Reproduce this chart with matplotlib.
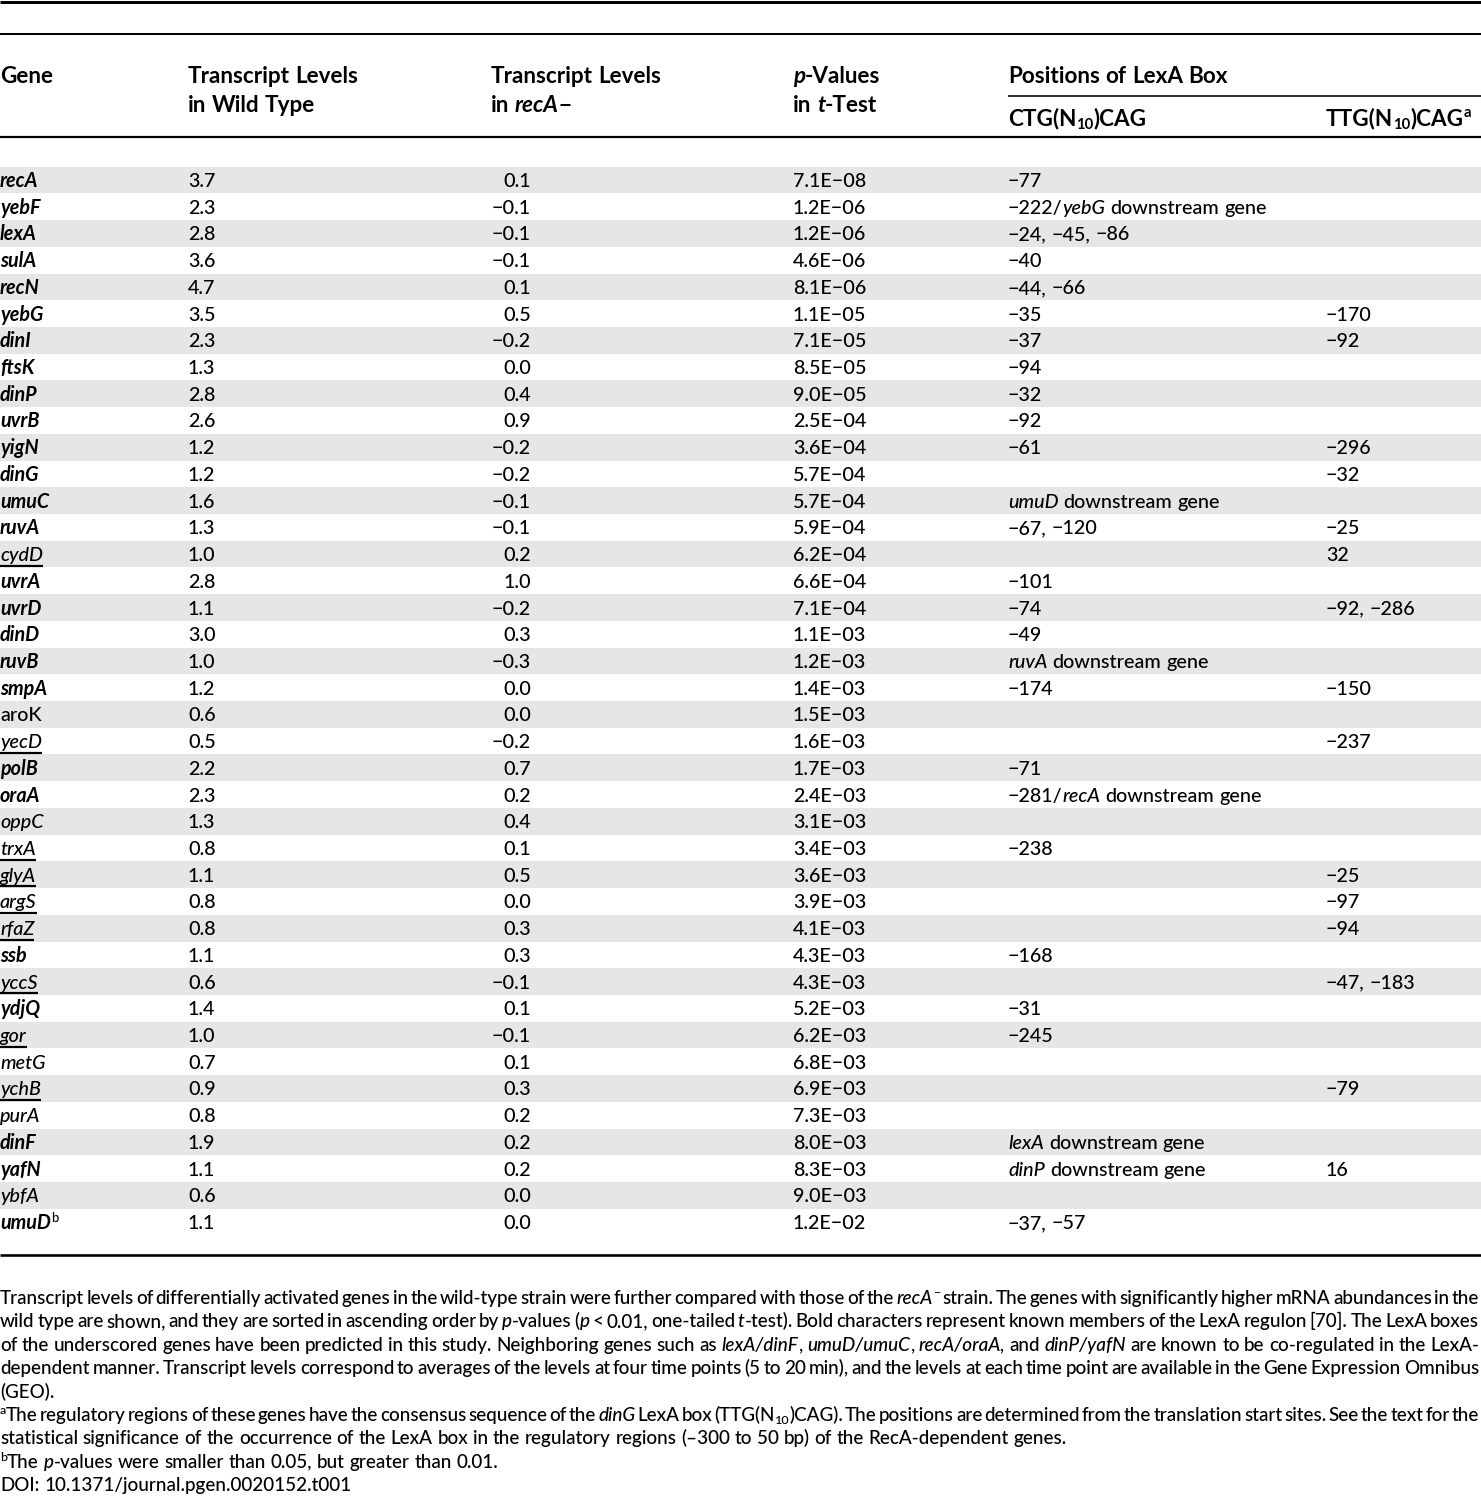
import re
import matplotlib.pyplot as plt

plt.rcParams['font.family'] = ['Lato', 'DejaVu Sans']

# table data
genes = ['recA', 'yebF', 'lexA', 'sulA', 'recN', 'yebG', 'dinI', 'ftsK', 'dinP', 'uvrB',
         'yigN', 'dinG', 'umuC', 'ruvA', 'cydD', 'uvrA', 'uvrD', 'dinD', 'ruvB', 'smpA',
         'aroK', 'yecD', 'polB', 'oraA', 'oppC', 'trxA', 'glyA', 'argS', 'rfaZ', 'ssb',
         'yccS', 'ydjQ', 'gor', 'metG', 'ychB', 'purA', 'dinF', 'yafN', 'ybfA', 'umuD']
# b = bold (known LexA regulon), u = underscored (predicted here), i = italic, n = upright
gene_kind = ['b', 'b', 'b', 'b', 'b', 'b', 'b', 'b', 'b', 'b',
             'b', 'b', 'b', 'b', 'u', 'b', 'b', 'b', 'b', 'b',
             'n', 'u', 'b', 'b', 'i', 'u', 'u', 'u', 'u', 'b',
             'u', 'b', 'u', 'i', 'u', 'i', 'b', 'b', 'i', 'b']
gene_note = {'umuD': 'b'}
wild_type = [3.7, 2.3, 2.8, 3.6, 4.7, 3.5, 2.3, 1.3, 2.8, 2.6,
             1.2, 1.2, 1.6, 1.3, 1.0, 2.8, 1.1, 3.0, 1.0, 1.2,
             0.6, 0.5, 2.2, 2.3, 1.3, 0.8, 1.1, 0.8, 0.8, 1.1,
             0.6, 1.4, 1.0, 0.7, 0.9, 0.8, 1.9, 1.1, 0.6, 1.1]
reca_minus = [0.1, -0.1, -0.1, -0.1, 0.1, 0.5, -0.2, 0.0, 0.4, 0.9,
              -0.2, -0.2, -0.1, -0.1, 0.2, 1.0, -0.2, 0.3, -0.3, 0.0,
              0.0, -0.2, 0.7, 0.2, 0.4, 0.1, 0.5, 0.0, 0.3, 0.3,
              -0.1, 0.1, -0.1, 0.1, 0.3, 0.2, 0.2, 0.2, 0.0, 0.0]
p_values = [7.1e-08, 1.2e-06, 1.2e-06, 4.6e-06, 8.1e-06, 1.1e-05, 7.1e-05, 8.5e-05, 9.0e-05, 2.5e-04,
            3.6e-04, 5.7e-04, 5.7e-04, 5.9e-04, 6.2e-04, 6.6e-04, 7.1e-04, 1.1e-03, 1.2e-03, 1.4e-03,
            1.5e-03, 1.6e-03, 1.7e-03, 2.4e-03, 3.1e-03, 3.4e-03, 3.6e-03, 3.9e-03, 4.1e-03, 4.3e-03,
            4.3e-03, 5.2e-03, 6.2e-03, 6.8e-03, 6.9e-03, 7.3e-03, 8.0e-03, 8.3e-03, 9.0e-03, 1.2e-02]
ctg_pos = ['−77', '−222/*yebG* downstream gene', '−24, −45, −86', '−40', '−44, −66',
           '−35', '−37', '−94', '−32', '−92',
           '−61', '', '*umuD* downstream gene', '−67, −120', '',
           '−101', '−74', '−49', '*ruvA* downstream gene', '−174',
           '', '', '−71', '−281/*recA* downstream gene', '',
           '−238', '', '', '', '−168',
           '', '−31', '−245', '', '',
           '', '*lexA* downstream gene', '*dinP* downstream gene', '', '−37, −57']
ttg_pos = ['', '', '', '', '', '−170', '−92', '', '', '',
           '−296', '−32', '', '−25', '32', '', '−92, −286', '', '', '−150',
           '', '−237', '', '', '', '', '−25', '−97', '−94', '',
           '−47, −183', '', '', '', '−79', '', '', '16', '', '']

header_top = ['Gene', 'Transcript Levels', 'Transcript Levels', '*p*-Values', 'Positions of LexA Box']
header_bottom = ['', 'in Wild Type', 'in *recA*−', 'in *t*-Test']
sub_headers = ['CTG(N_{10})CAG', 'TTG(N_{10})CAG^{a}']

notes = [
    'Transcript levels of differentially activated genes in the wild-type strain were further compared with those of the *recA*^{−} strain. The genes with significantly higher mRNA abundances in the',
    'wild type are shown, and they are sorted in ascending order by *p*-values (*p* < 0.01, one-tailed *t*-test). Bold characters represent known members of the LexA regulon [70]. The LexA boxes',
    'of the underscored genes have been predicted in this study. Neighboring genes such as *lexA/dinF*, *umuD/umuC*, *recA/oraA,* and *dinP/yafN* are known to be co-regulated in the LexA-',
    'dependent manner. Transcript levels correspond to averages of the levels at four time points (5 to 20 min), and the levels at each time point are available in the Gene Expression Omnibus',
    '(GEO).',
    '^{a}The regulatory regions of these genes have the consensus sequence of the *dinG* LexA box (TTG(N_{10})CAG). The positions are determined from the translation start sites. See the text for the',
    'statistical significance of the occurrence of the LexA box in the regulatory regions (–300 to 50 bp) of the RecA-dependent genes.',
    '^{b}The *p*-values were smaller than 0.05, but greater than 0.01.',
    'DOI: 10.1371/journal.pgen.0020152.t001',
]
note_justified = [True, True, True, True, False, True, False, False, False]

# layout (pixels)
W, H = 1481, 1498
PX = 100 / 72
col_x = [0, 188, 531, 793, 1008, 1326]
row0, pitch = 180, 26.72
BODY, HEAD, NOTE = 14.2, 16.2, 13.6
REG = 'medium'
GREY = '#e6e6e6'

fig = plt.figure(figsize=(W / 100, H / 100), dpi=100)
ax = fig.add_axes([0, 0, 1, 1])
ax.set_xlim(0, W)
ax.set_ylim(H, 0)
ax.axis('off')
renderer = fig.canvas.get_renderer()


def width(t):
    return t.get_window_extent(renderer).width


def parse(s):
    runs = []
    for part in re.split(r'(\*[^*]*\*|\^\{[^}]*\}|_\{[^}]*\})', s):
        if not part:
            continue
        if part.startswith('*'):
            runs.append((part[1:-1], 'it'))
        elif part.startswith('^{'):
            runs.append((part[2:-1], 'sup'))
        elif part.startswith('_{'):
            runs.append((part[2:-1], 'sub'))
        else:
            runs.append((part, 'rm'))
    return runs


def split_words(runs):
    out = [[]]
    for text, kind in runs:
        for k, piece in enumerate(text.split(' ')):
            if k > 0:
                out.append([])
            if piece:
                out[-1].append((piece, kind))
    return [w for w in out if w]


def build(word, y, size, weight):
    arts, x = [], 0
    for text, kind in word:
        fs, dy, st = size, 0, 'normal'
        if kind == 'it':
            st = 'italic'
        elif kind == 'sup':
            fs, dy = size * 0.66, -size * PX * 0.36
        elif kind == 'sub':
            fs, dy = size * 0.66, size * PX * 0.17
        t = ax.text(x, y + dy, text, fontsize=fs, fontweight=weight, fontstyle=st,
                    ha='left', va='baseline')
        arts.append((t, x))
        x += width(t)
    return arts, x


def space_width(size, weight):
    a = ax.text(0, 0, 'n n', fontsize=size, fontweight=weight)
    b = ax.text(0, 0, 'nn', fontsize=size, fontweight=weight)
    w = width(a) - width(b)
    a.remove()
    b.remove()
    return w


def draw_line(x, y, s, size, weight=REG, justify_to=None):
    built = [build(w, y, size, weight) for w in split_words(parse(s))]
    if not built:
        return x
    gap = space_width(size, weight)
    if justify_to is not None and len(built) > 1:
        gap = (justify_to - x - sum(w for _, w in built)) / (len(built) - 1)
    cx = x
    for arts, w in built:
        for t, x0 in arts:
            t.set_x(cx + x0)
        cx += w + gap
    return cx - gap


def hline(y, lw, x0=0, x1=W):
    ax.plot([x0, x1], [y, y], color='black', lw=lw * 0.72, solid_capstyle='butt')


# rules
hline(1.5, 3)
hline(34, 2)
hline(96, 1.6, col_x[4], W)
hline(137, 2.2)
hline(1255, 2.6)

# header
for x, s in zip([0, 188, 491, 793, 1008], header_top):
    draw_line(x, 83, s, HEAD, 'bold')
for x, s in zip([0, 188, 491, 793], header_bottom):
    draw_line(x, 112, s, HEAD, 'bold')
for x, s in zip(col_x[4:], sub_headers):
    draw_line(x, 125, s, HEAD, 'bold')

# body rows
for i, g in enumerate(genes):
    yc = row0 + i * pitch
    yb = yc + 7
    if i % 2 == 0:
        ax.axhspan(yc - pitch / 2, yc + pitch / 2, color=GREY, lw=0, zorder=0)
    kind = gene_kind[i]
    t = ax.text(0, yb, g, fontsize=BODY, ha='left', va='baseline',
                fontweight='bold' if kind == 'b' else REG,
                fontstyle='normal' if kind == 'n' else 'italic')
    gw = width(t)
    if kind == 'u':
        hline(yb + 4.5, 2.2, 0, gw)
    if g in gene_note:
        ax.text(gw, yb - BODY * PX * 0.36, gene_note[g], fontsize=BODY * 0.66,
                fontweight=REG, ha='left', va='baseline')
    ax.text(col_x[1], yb, f'{wild_type[i]:.1f}', fontsize=BODY, fontweight=REG,
            ha='left', va='baseline')
    ax.text(col_x[2], yb, f'{reca_minus[i]:.1f}'.replace('-', '−'), fontsize=BODY,
            fontweight=REG, ha='right', va='baseline')
    ax.text(col_x[3], yb, f'{p_values[i]:.1E}'.replace('-', '−'), fontsize=BODY,
            fontweight=REG, ha='left', va='baseline')
    draw_line(col_x[4], yb, ctg_pos[i], BODY)
    draw_line(col_x[5], yb, ttg_pos[i], BODY)

# footnotes
for k, s in enumerate(notes):
    yb = 1304 + k * 23.4
    draw_line(0, yb, s, NOTE, justify_to=W - 2 if note_justified[k] else None)

fig.savefig('out.png', dpi=100)
